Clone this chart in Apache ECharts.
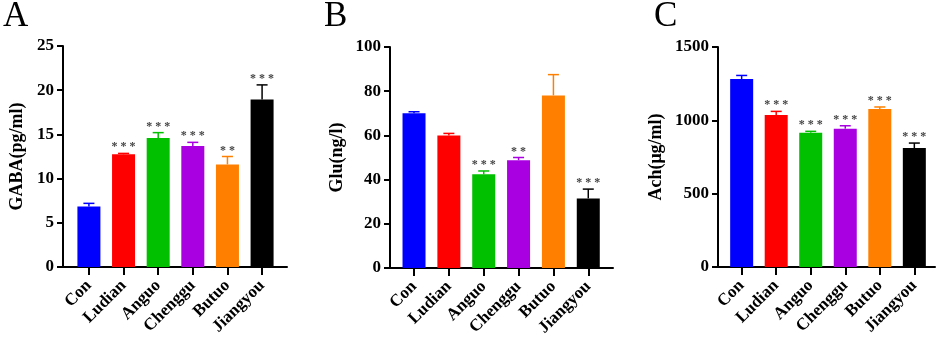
<!DOCTYPE html>
<html>
<head>
<meta charset="utf-8">
<script src="https://cdn.jsdelivr.net/npm/echarts@6/dist/echarts.min.js"></script>
<style>
  html, body { margin: 0; padding: 0; background: #fff; }
  #chart { width: 941px; height: 341px; }
</style>
</head>
<body>
<div id="chart"></div>
<script>
const groups = ['Con', 'Ludian', 'Anguo', 'Chenggu', 'Butuo', 'Jiangyou']
const barColors = ['#0000ff', '#ff0000', '#00c000', '#a800e0', '#ff8000', '#000000']

// GABA (pg/ml)
const gabaMean = [6.85, 12.75, 14.6, 13.7, 11.6, 18.95]
const gabaUpper = [7.2, 12.85, 15.2, 14.1, 12.5, 20.6]
const gabaStars = ['', '***', '***', '***', '**', '***']

// Glu (ng/l)
const gluMean = [70.0, 60.0, 42.4, 48.8, 78.1, 31.5]
const gluUpper = [70.7, 60.9, 43.9, 50.0, 87.5, 35.7]
const gluStars = ['', '', '***', '**', '', '***']

// Ach (ug/ml)
const achMean = [1282, 1036, 916, 943, 1077, 811]
const achUpper = [1306, 1061, 925, 963, 1091, 845]
const achStars = ['', '***', '***', '***', '***', '***']

const panels = [
  { letter: 'A', name: 'GABA(pg/ml)', max: 25, interval: 5, mean: gabaMean, upper: gabaUpper, stars: gabaStars,
    axisX: 63, endX: 287, top: 46, bottom: 267, barLeft: 71.6, barRight: 279.4, letterX: 3, nameGap: 37 },
  { letter: 'B', name: 'Glu(ng/l)', max: 100, interval: 20, mean: gluMean, upper: gluUpper, stars: gluStars,
    axisX: 390, endX: 613, top: 47, bottom: 268, barLeft: 396.6, barRight: 605.7, letterX: 324, nameGap: 44 },
  { letter: 'C', name: 'Ach(μg/ml)', max: 1500, interval: 500, mean: achMean, upper: achUpper, stars: achStars,
    axisX: 718, endX: 935, top: 47, bottom: 267, barLeft: 724.4, barRight: 931.6, letterX: 654, nameGap: 53 }
]

const font = 'Liberation Serif'
const grid = [], xAxis = [], yAxis = [], series = [], graphic = []

panels.forEach((p, k) => {
  const frame = 2 * k, bars = 2 * k + 1
  grid.push({ left: p.axisX, top: p.top, width: p.endX - p.axisX, height: p.bottom - p.top, outerBoundsMode: 'none' })
  grid.push({ left: p.barLeft, top: p.top, width: p.barRight - p.barLeft, height: p.bottom - p.top, outerBoundsMode: 'none' })

  xAxis.push({
    type: 'value', gridIndex: frame, min: 0, max: 1,
    axisLine: { show: true, lineStyle: { color: '#000', width: 2 } },
    axisTick: { show: false }, axisLabel: { show: false }, splitLine: { show: false }
  })
  xAxis.push({
    type: 'category', gridIndex: bars, data: groups,
    axisLine: { show: false },
    axisTick: { show: true, alignWithLabel: true, length: 8, lineStyle: { color: '#000', width: 2 } },
    axisLabel: { rotate: 45, margin: 16, color: '#000', fontFamily: font, fontWeight: 'bold', fontSize: 17 }
  })

  yAxis.push({
    type: 'value', gridIndex: frame, min: 0, max: p.max, interval: p.interval,
    name: p.name, nameLocation: 'middle', nameGap: p.nameGap, nameRotate: 90,
    nameTextStyle: { color: '#000', fontFamily: font, fontWeight: 'bold', fontSize: 18 },
    axisLine: { show: true, lineStyle: { color: '#000', width: 2 } },
    axisTick: { show: true, length: 6, lineStyle: { color: '#000', width: 2 } },
    axisLabel: { margin: 9, color: '#000', fontFamily: font, fontWeight: 'bold', fontSize: 17,
      formatter: v => String(v) },
    splitLine: { show: false }
  })
  yAxis.push({
    type: 'value', gridIndex: bars, min: 0, max: p.max, interval: p.interval, show: false,
    splitLine: { show: false }
  })

  series.push({
    type: 'bar', xAxisIndex: bars, yAxisIndex: bars, barWidth: 23,
    data: p.mean.map((v, i) => ({ value: v, itemStyle: { color: barColors[i] } }))
  })

  series.push({
    type: 'custom', xAxisIndex: bars, yAxisIndex: bars, z: 3,
    data: p.mean.map((v, i) => [i, v, p.upper[i]]),
    renderItem: function (params, api) {
      const i = api.value(0)
      const base = api.coord([i, api.value(1)])
      const top = api.coord([i, api.value(2)])
      const color = barColors[i]
      const children = [
        { type: 'line', shape: { x1: base[0], y1: base[1], x2: top[0], y2: top[1] }, style: { stroke: color, lineWidth: 1.5 } },
        { type: 'line', shape: { x1: top[0] - 5.5, y1: top[1], x2: top[0] + 5.5, y2: top[1] }, style: { stroke: color, lineWidth: 1.5 } }
      ]
      const s = p.stars[i]
      if (s) {
        children.push({
          type: 'text',
          style: {
            text: s.split('').join(' '), x: top[0], y: top[1],
            align: 'center', verticalAlign: 'bottom',
            fill: '#444', font: 'bold 12px "' + font + '"'
          }
        })
      }
      return { type: 'group', children: children }
    }
  })

  graphic.push({
    type: 'text', left: p.letterX, top: -1,
    style: { text: p.letter, fill: '#000', font: '35px "' + font + '"' }
  })
})

const chart = echarts.init(document.getElementById('chart'))
chart.setOption({
  backgroundColor: '#fff',
  animation: false,
  grid: grid,
  xAxis: xAxis,
  yAxis: yAxis,
  series: series,
  graphic: graphic
})
</script>
</body>
</html>
